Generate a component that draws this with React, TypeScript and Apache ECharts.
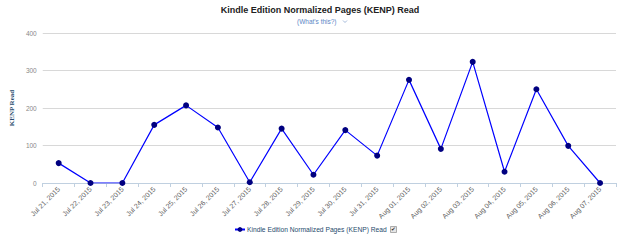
import React, { useEffect, useRef } from "react";
import * as echarts from "echarts";

const categories = [
  "Jul 21, 2015", "Jul 22, 2015", "Jul 23, 2015", "Jul 24, 2015", "Jul 25, 2015",
  "Jul 26, 2015", "Jul 27, 2015", "Jul 28, 2015", "Jul 29, 2015", "Jul 30, 2015",
  "Jul 31, 2015", "Aug 01, 2015", "Aug 02, 2015", "Aug 03, 2015", "Aug 04, 2015",
  "Aug 05, 2015", "Aug 06, 2015", "Aug 07, 2015",
];
const kenpValues = [53, 0, 0, 155, 207, 148, 2, 145, 22, 141, 73, 275, 91, 323, 30, 250, 99, 0];
const seriesName = "Kindle Edition Normalized Pages (KENP) Read";
const chartTitle = "Kindle Edition Normalized Pages (KENP) Read";
const subtitle = "(What's this?)";
const yAxisName = "KENP Read";

export default function App() {
  const ref = useRef<HTMLDivElement>(null);
  useEffect(() => {
    if (!ref.current) return;
    const chart = echarts.init(ref.current, undefined, { renderer: "svg" });
    chart.setOption({
      animation: false,
      textStyle: { fontFamily: "Liberation Sans, Arial, sans-serif" },
      grid: { left: 40, right: 24, top: 33, bottom: 61 },
      graphic: [
        {
          type: "text",
          left: "center",
          top: 5,
          style: { text: chartTitle, fontSize: 9, fontWeight: "bold", fill: "#222", fontFamily: "Liberation Sans, Arial, sans-serif" },
        },
        {
          type: "text",
          x: 297,
          y: 18,
          style: { text: subtitle, fontSize: 6.5, fill: "#5b85c5", fontFamily: "Liberation Sans, Arial, sans-serif" },
        },
        {
          type: "polyline",
          shape: { points: [[343, 20.5], [345, 22.5], [347, 20.5]] },
          style: { stroke: "#8aa6cf", lineWidth: 0.8, fill: "none" },
        },
        {
          type: "rect",
          shape: { x: 390.5, y: 226.5, width: 6, height: 6 },
          style: { fill: "#e6e6e6", stroke: "#999", lineWidth: 0.8 },
        },
        {
          type: "text",
          x: 391,
          y: 226,
          style: { text: "✔", fontSize: 5.5, fill: "#333", fontFamily: "DejaVu Sans" },
        },
      ],
      legend: {
        left: 234,
        top: 226,
        padding: 0,
        itemWidth: 10,
        itemHeight: 6,
        itemGap: 4,
        selectedMode: false,
        textStyle: { fontSize: 6.7, color: "#274b6d", padding: [0, 0, 0, -3] },
        data: [seriesName],
      },
      xAxis: {
        type: "category",
        data: categories,
        boundaryGap: true,
        axisLine: { lineStyle: { color: "#C0D0E0", width: 1 } },
        axisTick: { show: true, length: 4, lineStyle: { color: "#C0D0E0" } },
        axisLabel: { rotate: 45, fontSize: 7, color: "#606060", margin: 5, interval: 0 },
      },
      yAxis: {
        type: "value",
        min: 0,
        max: 400,
        interval: 100,
        name: yAxisName,
        nameLocation: "middle",
        nameGap: 17,
        nameTextStyle: { fontFamily: "Liberation Serif, Times New Roman, serif", fontWeight: "bold", fontSize: 7, color: "#274b6d" },
        axisLine: { show: false },
        axisTick: { show: false },
        axisLabel: { fontSize: 6.5, color: "#888", margin: 6 },
        splitLine: { lineStyle: { color: "#D8D8D8", width: 1 } },
      },
      series: [
        {
          name: seriesName,
          type: "line",
          data: kenpValues,
          symbol: "circle",
          symbolSize: 6,
          itemStyle: { color: "#000080" },
          lineStyle: { color: "#0000ff", width: 1.2 },
        },
      ],
    });
    return () => chart.dispose();
  }, []);
  return <div ref={ref} style={{ position: "absolute", left: 0, top: 0, width: 640, height: 244 }} />;
}
